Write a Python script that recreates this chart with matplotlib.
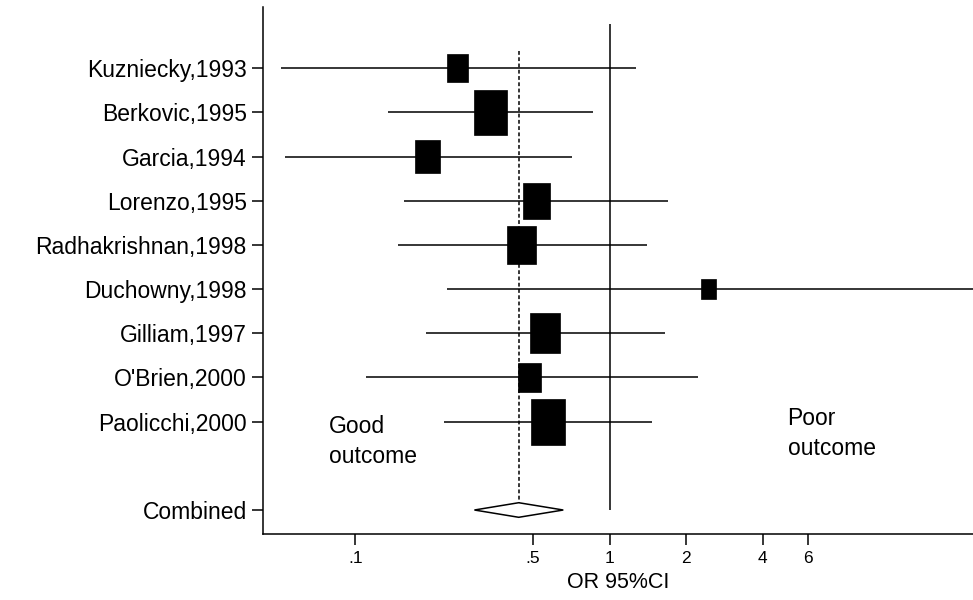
"""
Forest plot: odds ratios (95% CI) for outcome by study, with combined estimate.
"""

import numpy as np
import matplotlib
matplotlib.use("Agg")
import matplotlib.pyplot as plt
from matplotlib.patches import Rectangle, Polygon

# ── Data ──────────────────────────────────────────────────────────────────────
studies = ["Kuzniecky,1993", "Berkovic,1995", "Garcia,1994", "Lorenzo,1995",
           "Radhakrishnan,1998", "Duchowny,1998", "Gilliam,1997",
           "O'Brien,2000", "Paolicchi,2000"]
or_est  = [0.253, 0.340, 0.193, 0.517, 0.450, 2.445, 0.558, 0.485, 0.572]
ci_lo   = [0.051, 0.134, 0.053, 0.156, 0.147, 0.229, 0.190, 0.110, 0.224]
ci_hi   = [1.265, 0.862, 0.709, 1.690, 1.395, 30.0, 1.655, 2.218, 1.465]
weights = [6.8, 17.3, 9.5, 11.1, 12.1, 3.6, 13.9, 7.7, 18.1]   # % weight

comb_label = "Combined"
comb_est, comb_lo, comb_hi = 0.439, 0.294, 0.657

xticks      = [0.1, 0.5, 1, 2, 4, 6]
xticklabels = [".1", ".5", "1", "2", "4", "6"]

# ── Layout ────────────────────────────────────────────────────────────────────
FONT = "Liberation Sans"
plt.rcParams["font.family"] = [FONT, "DejaVu Sans"]

W, H = 973, 600
fig = plt.figure(figsize=(W / 100, H / 100), dpi=100)
ax_l, ax_b = 263.4 / W, 1 - 534.3 / H
ax_w, ax_h = 1 - ax_l, (534.3 - 7) / H
ax = fig.add_axes([ax_l, ax_b, ax_w, ax_h])

XMIN, XMAX = 0.04357, 26.76
YMIN, YMAX = -0.388, 11.55
ax.set_xscale("log")
ax.set_xlim(XMIN, XMAX)
ax.set_ylim(YMAX, YMIN)

px_per_dec = ax_w * W / (np.log10(XMAX) - np.log10(XMIN))
px_per_row = ax_h * H / (YMAX - YMIN)

rows = np.arange(1, len(studies) + 1)
comb_row = len(studies) + 2

# reference lines
ax.vlines(1, 0, comb_row, color="black", lw=1.1)
diam_h = 0.165
ax.vlines(comb_est, 0.6, comb_row - diam_h, color="black", lw=1.1,
          linestyles=(0, (2.5, 1.6)))

# CIs and weighted boxes
max_w = max(weights)
for r, est, lo, hi, w in zip(rows, or_est, ci_lo, ci_hi, weights):
    ax.plot([lo, hi], [r, r], color="black", lw=1.1, solid_capstyle="butt")
    bh = 1.035 * np.sqrt(w / max_w)                 # box height in rows
    half_dec = 0.5 * 0.755 * bh * px_per_row / px_per_dec
    left = est * 10 ** (-half_dec)
    right = est * 10 ** half_dec
    ax.add_patch(Rectangle((left, r - bh / 2), right - left, bh,
                           facecolor="black", edgecolor="black", lw=0.5))

# combined diamond
ax.add_patch(Polygon([(comb_lo, comb_row), (comb_est, comb_row - diam_h),
                      (comb_hi, comb_row), (comb_est, comb_row + diam_h)],
                     closed=True, facecolor="white", edgecolor="black", lw=1.1))

# annotations (va=baseline anchors the last line)
ax.text(0.0791, 9.936, "Good\noutcome", ha="left", va="baseline",
        fontsize=16.5, linespacing=1.4)
ax.text(5.0, 9.755, "Poor\noutcome", ha="left", va="baseline",
        fontsize=16.5, linespacing=1.4)

# axes styling
for s in ("top", "right"):
    ax.spines[s].set_visible(False)
for s in ("left", "bottom"):
    ax.spines[s].set_linewidth(1.1)

ax.set_yticks(list(rows) + [comb_row])
ax.set_yticklabels(studies + [comb_label], fontsize=16.5)
ax.tick_params(axis="y", length=8, width=1.1, pad=4)

ax.set_xticks(xticks)
ax.set_xticklabels(xticklabels, fontsize=12.5)
ax.minorticks_off()
ax.tick_params(axis="x", which="minor", bottom=False)
ax.tick_params(axis="x", length=8, width=1.1, pad=4)
ax.set_xlabel("OR 95%CI", fontsize=15.5, labelpad=4)

fig.savefig("out.png", dpi=100)
